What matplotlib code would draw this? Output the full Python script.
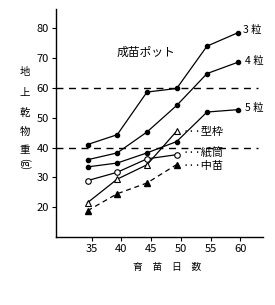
import matplotlib.pyplot as plt

plt.rcParams['font.family'] = ['Noto Sans CJK JP', 'DejaVu Sans']

# データ
days = [34.3, 39.3, 44.3, 49.3, 54.4, 59.6]
pot3 = [41.0, 44.3, 58.6, 59.8, 74.0, 78.5]
pot4 = [35.9, 38.2, 45.2, 54.1, 64.8, 68.6]
pot5 = [33.5, 34.8, 38.2, 42.0, 51.9, 52.7]

days_s = [34.3, 39.3, 44.3, 49.3]
katawaku = [21.5, 29.4, 34.2, 45.5]
kamitsutsu = [28.9, 31.7, 36.2, 37.6]
chunae = [18.8, 24.5, 28.1, 34.3]

xticks = [35, 40, 45, 50, 55, 60]
yticks = [20, 30, 40, 50, 60, 70, 80]
ref_lines = [60, 40]

fig = plt.figure(figsize=(2.75, 3.05), dpi=100)
ax = fig.add_axes([0.2036, 0.223, 0.7524, 0.747])

for yv in ref_lines:
    ax.plot([29, 63], [yv, yv], color='black', lw=1, dashes=(5, 4))

# 成苗ポット
for vals in (pot3, pot4, pot5):
    ax.plot(days, vals, 'k-o', lw=0.9, markersize=3)

ax.plot(days_s, katawaku, 'k-^', lw=0.9, markersize=5, mfc='white', mew=0.8)
ax.plot(days_s, kamitsutsu, 'k-o', lw=0.9, markersize=4, mfc='white', mew=0.8)
ax.plot(days_s, chunae, 'k^', ls=(0, (4, 3)), lw=0.9, markersize=5)

ax.set_xlim(29, 63.8)
ax.set_ylim(10, 86.4)
ax.set_xticks(xticks)
ax.set_yticks(yticks)
ax.tick_params(labelsize=8, length=3, width=0.8, pad=2)
for s in ('top', 'right'):
    ax.spines[s].set_visible(False)
for s in ('left', 'bottom'):
    ax.spines[s].set_linewidth(1)

ax.text(44.1, 71.9, '成苗ポット', fontsize=8.5, ha='center', va='center')
ax.text(60.5, 79.3, '3 粒', fontsize=7.5, va='center')
ax.text(60.8, 69.0, '4 粒', fontsize=7.5, va='center')
ax.text(60.8, 53.2, '5 粒', fontsize=7.5, va='center')
for lab, yv in (('型枠', 45.3), ('紙筒', 38.2), ('中苗', 33.8)):
    ax.text(50.3, yv, '···' + lab, fontsize=8, va='center')

fig.text(0.609, 0.125, '育　苗　日　数', fontsize=7, ha='center', va='center')

ylab_chars = ['地', '上', '乾', '物', '重']
ylab_py = [72, 93, 113, 132, 150]
for ch, py in zip(ylab_chars, ylab_py):
    fig.text(25 / 275, 1 - py / 305, ch, fontsize=7.5, ha='center', va='center')
fig.text(25 / 275, 1 - 164 / 305, '(g)', fontsize=7, ha='center', va='center',
         rotation=270)

fig.savefig('out.png', dpi=100)
